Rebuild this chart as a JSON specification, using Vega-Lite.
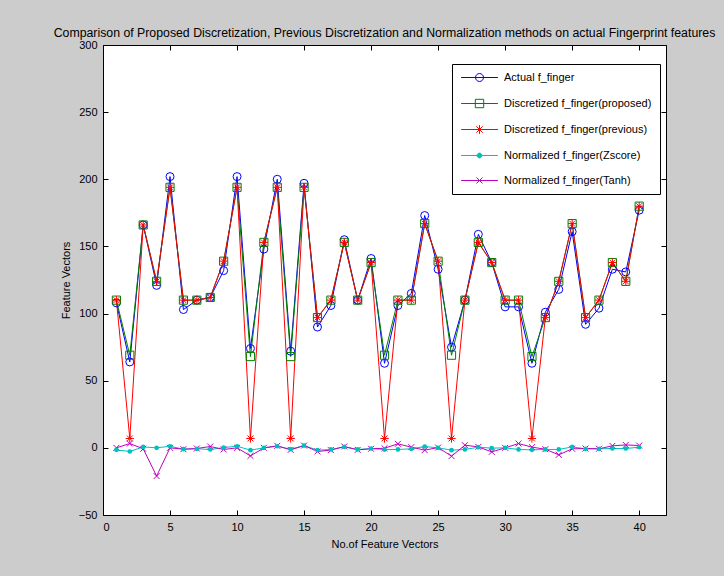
{
  "$schema": "https://vega.github.io/schema/vega-lite/v6.json",
  "width": 563,
  "height": 470,
  "autosize": {"type": "none"},
  "padding": {"left": 103, "top": 45, "right": 58, "bottom": 61},
  "background": "#cccccc",
  "config": {
    "view": {"fill": "white", "stroke": "black", "strokeWidth": 1},
    "font": "Liberation Sans",
    "axis": {
      "grid": false,
      "domain": false,
      "tickColor": "black",
      "tickSize": -5,
      "tickWidth": 1,
      "labelFont": "Liberation Sans",
      "labelFontSize": 11,
      "labelColor": "black",
      "titleFont": "Liberation Sans",
      "titleFontSize": 11,
      "titleFontWeight": "normal",
      "titleColor": "black"
    },
    "legend": {
      "labelFont": "Liberation Sans",
      "labelFontSize": 11,
      "labelColor": "black"
    }
  },
  "title": {
    "text": "Comparison of Proposed Discretization, Previous Discretization and Normalization methods on actual Fingerprint features",
    "font": "Liberation Sans",
    "fontSize": 12.3,
    "fontWeight": "normal",
    "color": "black",
    "anchor": "middle",
    "offset": 0
  },
  "data": {
    "values": [
      {"x": 1, "a": 108, "p": 110, "r": 110, "z": -1.5, "t": 0},
      {"x": 2, "a": 64, "p": 69, "r": 7, "z": -2.7, "t": 3.2},
      {"x": 3, "a": 166, "p": 166, "r": 166, "z": 0.7, "t": -0.7},
      {"x": 4, "a": 121, "p": 124, "r": 124, "z": 0, "t": -21},
      {"x": 5, "a": 202, "p": 194, "r": 194, "z": 1.2, "t": 0},
      {"x": 6, "a": 103, "p": 110, "r": 110, "z": -1, "t": -1},
      {"x": 7, "a": 110, "p": 110, "r": 110, "z": -0.7, "t": -0.5},
      {"x": 8, "a": 112, "p": 112, "r": 112, "z": -1.2, "t": 1},
      {"x": 9, "a": 132, "p": 139, "r": 139, "z": 0.2, "t": -1.2},
      {"x": 10, "a": 202, "p": 194, "r": 194, "z": 1.2, "t": 0},
      {"x": 11, "a": 74, "p": 68, "r": 7, "z": -1.7, "t": -6},
      {"x": 12, "a": 148, "p": 153, "r": 153, "z": 0, "t": 0},
      {"x": 13, "a": 200, "p": 194, "r": 194, "z": 1.2, "t": 1.5},
      {"x": 14, "a": 72, "p": 68, "r": 7, "z": -1, "t": -1.5},
      {"x": 15, "a": 197, "p": 194, "r": 194, "z": 1.7, "t": 1.7},
      {"x": 16, "a": 90, "p": 97, "r": 97, "z": -1.7, "t": -2.7},
      {"x": 17, "a": 106, "p": 110, "r": 110, "z": -1.2, "t": -1.7},
      {"x": 18, "a": 155, "p": 153, "r": 153, "z": 0.7, "t": 1},
      {"x": 19, "a": 110, "p": 110, "r": 110, "z": -1.2, "t": -1.5},
      {"x": 20, "a": 141, "p": 138, "r": 138, "z": -0.5, "t": -0.7},
      {"x": 21, "a": 63, "p": 69, "r": 7, "z": -1.3, "t": -0.3},
      {"x": 22, "a": 106, "p": 110, "r": 110, "z": -1.2, "t": 3},
      {"x": 23, "a": 115, "p": 110, "r": 110, "z": -0.7, "t": 0.5},
      {"x": 24, "a": 173, "p": 167, "r": 167, "z": 1, "t": -1.7},
      {"x": 25, "a": 133, "p": 139, "r": 139, "z": 0, "t": 0.2},
      {"x": 26, "a": 75, "p": 69, "r": 7, "z": -1.7, "t": -6.2},
      {"x": 27, "a": 110, "p": 110, "r": 110, "z": -1.2, "t": 2},
      {"x": 28, "a": 159, "p": 153, "r": 153, "z": 0.5, "t": 0.7},
      {"x": 29, "a": 138, "p": 138, "r": 138, "z": -0.2, "t": -3},
      {"x": 30, "a": 105, "p": 110, "r": 110, "z": 0, "t": 0},
      {"x": 31, "a": 105, "p": 110, "r": 110, "z": -1.2, "t": 3.2},
      {"x": 32, "a": 63, "p": 68, "r": 7, "z": -1.5, "t": 0.5},
      {"x": 33, "a": 101, "p": 97, "r": 97, "z": -1.2, "t": -1},
      {"x": 34, "a": 118, "p": 124, "r": 124, "z": -1.2, "t": -5.2},
      {"x": 35, "a": 161, "p": 167, "r": 167, "z": 0.7, "t": -0.7},
      {"x": 36, "a": 92, "p": 97, "r": 97, "z": -0.7, "t": -0.5},
      {"x": 37, "a": 104, "p": 110, "r": 110, "z": -0.7, "t": -0.7},
      {"x": 38, "a": 133, "p": 138, "r": 138, "z": -0.5, "t": 1.5},
      {"x": 39, "a": 131, "p": 124, "r": 124, "z": -0.5, "t": 2.2},
      {"x": 40, "a": 177, "p": 180, "r": 180, "z": 0.5, "t": 1.7}
    ]
  },
  "transform": [{"fold": ["a", "p", "r", "z", "t"], "as": ["s", "v"]}],
  "layer": [
    {
      "mark": {"type": "line", "strokeWidth": 1},
      "encoding": {
        "x": {
          "field": "x", "type": "quantitative",
          "scale": {"domain": [0, 42], "nice": false, "zero": false},
          "axis": {"values": [0, 5, 10, 15, 20, 25, 30, 35, 40], "title": "No.of Feature Vectors", "labelPadding": 11, "titlePadding": 6}
        },
        "y": {
          "field": "v", "type": "quantitative",
          "scale": {"domain": [-50, 300], "nice": false, "zero": false},
          "axis": {"values": [-50, 0, 50, 100, 150, 200, 250, 300], "title": "Feature Vectors", "labelPadding": 11, "titlePadding": 7}
        },
        "color": {
          "field": "s", "type": "nominal",
          "scale": {"domain": ["a", "p", "r", "z", "t"], "range": ["#0000ff", "#008000", "#ff0000", "#00bfbf", "#bf00bf"]},
          "legend": {
            "title": null,
            "orient": "none",
            "legendX": 349,
            "legendY": 19,
            "padding": 8,
            "fillColor": "white",
            "strokeColor": "black",
            "cornerRadius": 0,
            "symbolOffset": 14,
            "labelOffset": 19,
            "rowPadding": 13,
            "symbolSize": 64,
            "labelExpr": "datum.value=='a'?'Actual f_finger':datum.value=='p'?'Discretized f_finger(proposed)':datum.value=='r'?'Discretized f_finger(previous)':datum.value=='z'?'Normalized f_finger(Zscore)':'Normalized f_finger(Tanh)'",
            "encode": {
              "symbols": {
                "update": {
                  "shape": {"signal": "datum.value=='a'?'M-4.6,0H4.6M-1,0A1,1,0,1,1,1,0A1,1,0,1,1,-1,0':datum.value=='p'?'M-4.6,0H4.6M-1.05,-1.05H1.05V1.05H-1.05Z':datum.value=='r'?'M-4.6,0H4.6M-1.1,0H1.1M0,-1.1V1.1M-0.8,-0.8L0.8,0.8M-0.8,0.8L0.8,-0.8':datum.value=='z'?'M-4.6,0H4.6M-0.6,0A0.6,0.6,0,1,1,0.6,0A0.6,0.6,0,1,1,-0.6,0':'M-4.6,0H4.6M-0.75,-0.75L0.75,0.75M-0.75,0.75L0.75,-0.75'"},
                  "size": {"value": 64},
                  "strokeWidth": {"value": 1},
                  "stroke": {"scale": "color", "field": "value"},
                  "fill": {"scale": "color", "field": "value"},
                  "fillOpacity": {"signal": "datum.value=='z'?1:0"},
                  "opacity": {"value": 1}
                }
              }
            }
          }
        }
      }
    },
    {
      "transform": [{"filter": "datum.s != 'z'"}],
      "mark": {"type": "point", "filled": false, "strokeWidth": 1, "opacity": 1},
      "encoding": {
        "x": {"field": "x", "type": "quantitative", "axis": null},
        "y": {"field": "v", "type": "quantitative", "axis": null},
        "color": {"field": "s", "type": "nominal", "legend": null},
        "shape": {
          "field": "s", "type": "nominal", "legend": null,
          "scale": {"domain": ["a", "p", "r", "t"], "range": ["circle", "square", "M-1,0H1M0,-1V1M-0.7,-0.7L0.7,0.7M-0.7,0.7L0.7,-0.7", "M-0.7,-0.7L0.7,0.7M-0.7,0.7L0.7,-0.7"]}
        },
        "size": {
          "field": "s", "type": "nominal", "legend": null,
          "scale": {"domain": ["a", "p", "r", "t"], "range": [64, 72, 81, 74]}
        }
      }
    },
    {
      "transform": [{"filter": "datum.s == 'z'"}],
      "mark": {"type": "point", "filled": true, "opacity": 1, "shape": "circle", "size": 22},
      "encoding": {
        "x": {"field": "x", "type": "quantitative", "axis": null},
        "y": {"field": "v", "type": "quantitative", "axis": null},
        "color": {"field": "s", "type": "nominal", "legend": null}
      }
    },
    {
      "mark": {"type": "point", "opacity": 0},
      "encoding": {
        "x": {"field": "x", "type": "quantitative", "axis": {"orient": "top", "values": [0, 5, 10, 15, 20, 25, 30, 35, 40], "labels": false, "title": null}},
        "y": {"field": "v", "type": "quantitative", "axis": {"orient": "right", "values": [-50, 0, 50, 100, 150, 200, 250, 300], "labels": false, "title": null}}
      }
    }
  ],
  "resolve": {"axis": {"x": "independent", "y": "independent"}}
}
